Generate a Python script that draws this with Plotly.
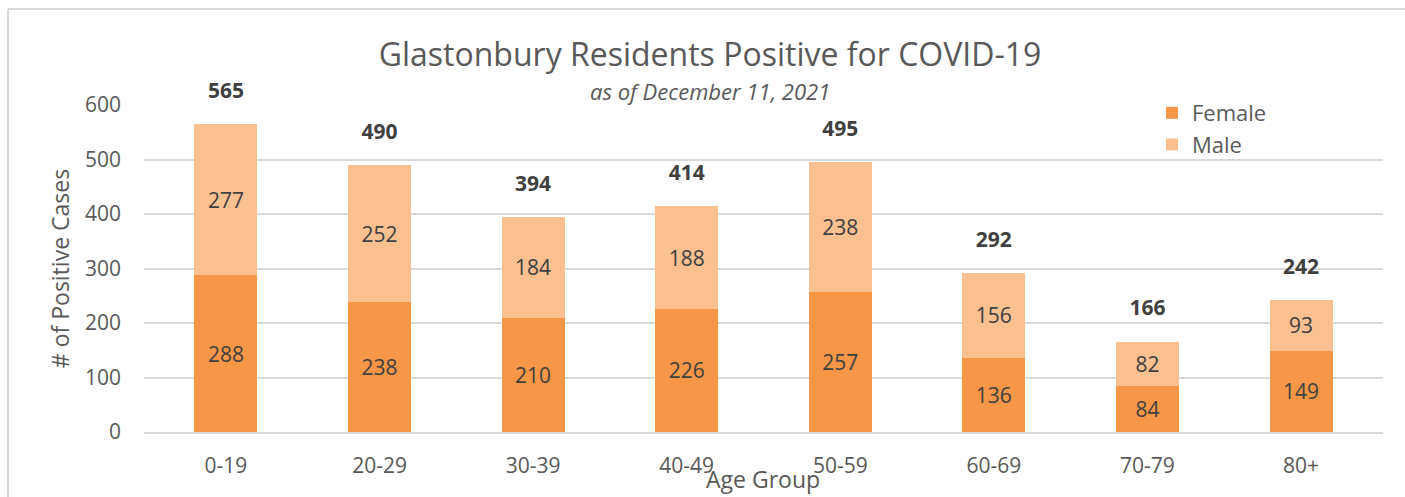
import plotly.graph_objects as go

age_groups = ["0-19", "20-29", "30-39", "40-49", "50-59", "60-69", "70-79", "80+"]
female = [288, 238, 210, 226, 257, 136, 84, 149]
male = [277, 252, 184, 188, 238, 156, 82, 93]
totals = [565, 490, 394, 414, 495, 292, 166, 242]

FONT = "Open Sans"
GREY = "#595959"
DARK = "#404040"

W, H = 1405, 497
ML, MR, MT, MB = 144, 22, 105, 65
pw, ph = W - ML - MR, H - MT - MB


def px_x(p):
    return (p - ML) / pw


def px_y(p):
    return 1 - (p - MT) / ph


fig = go.Figure()
fig.add_trace(go.Bar(
    x=age_groups, y=female, name="Female", legendgroup="f", marker_color="#F79646",
    marker_line_width=0, text=female, textposition="inside",
    insidetextanchor="middle", textangle=0, constraintext="none",
    textfont=dict(family=FONT, size=21, color=DARK), width=0.41))
fig.add_trace(go.Bar(
    x=age_groups, y=male, name="Male", legendgroup="m", marker_color="#FAC090",
    marker_line_width=0, text=male, textposition="inside",
    insidetextanchor="middle", textangle=0, constraintext="none",
    textfont=dict(family=FONT, size=21, color=DARK), width=0.41))
fig.add_trace(go.Scatter(
    x=age_groups, y=totals, mode="markers+text", text=[f"<b>{t}</b>" for t in totals],
    marker=dict(size=32, color="rgba(0,0,0,0)"),
    textposition="top center", textfont=dict(family=FONT, size=21, color=DARK),
    showlegend=False, hoverinfo="skip", cliponaxis=False))

fig.update_layout(
    width=W, height=H, barmode="stack",
    margin=dict(l=ML, r=MR, t=MT, b=MB, pad=0, autoexpand=False),
    paper_bgcolor="white", plot_bgcolor="white",
    font=dict(family=FONT, color=GREY),
    title=dict(text="Glastonbury Residents Positive for COVID-19", x=px_x(710), xanchor="center",
               xref="paper", y=1 - 55 / H, yanchor="middle",
               font=dict(family=FONT, size=32, color=GREY)),
    legend=dict(x=px_x(1152), y=px_y(92), xanchor="left", yanchor="top",
                traceorder="normal", font=dict(family=FONT, size=22, color=GREY),
                bgcolor="rgba(0,0,0,0)", tracegroupgap=10),
    xaxis=dict(showgrid=False, showline=True, linecolor="#D9D9D9", linewidth=1.5,
               tickfont=dict(family=FONT, size=21, color=GREY), ticks="",
               ticklabelstandoff=14, automargin=False),
    yaxis=dict(range=[0, 600], dtick=100, showgrid=True, gridcolor="#D9D9D9", gridwidth=1.5,
               zeroline=False, tickfont=dict(family=FONT, size=21, color=GREY), ticks="",
               ticklabelstandoff=22, automargin=False,
               title=dict(text="# of Positive Cases", font=dict(family=FONT, size=23, color=GREY), standoff=8)),
    annotations=[
        dict(text="<i>as of December 11, 2021</i>", xref="paper", yref="paper",
             x=px_x(710), y=px_y(91), xanchor="center", yanchor="middle", showarrow=False,
             font=dict(family=FONT, size=22, color=GREY)),
        dict(text="Age Group", xref="paper", yref="paper",
             x=px_x(763), y=px_y(479), xanchor="center", yanchor="middle", showarrow=False,
             font=dict(family=FONT, size=23, color=GREY)),
    ],
    shapes=[
        dict(type="line", xref="paper", yref="paper", x0=px_x(8), x1=px_x(1420), y0=px_y(9), y1=px_y(9),
             line=dict(color="#D9D9D9", width=2)),
        dict(type="line", xref="paper", yref="paper", x0=px_x(8), x1=px_x(8), y0=px_y(9), y1=px_y(510),
             line=dict(color="#D9D9D9", width=2)),
    ],
)

fig.write_html(
    "out.html",
    config={"displayModeBar": False},
    post_script="document.body.style.margin='0';document.body.style.overflow='hidden';"
                "document.documentElement.style.overflow='hidden';",
)
